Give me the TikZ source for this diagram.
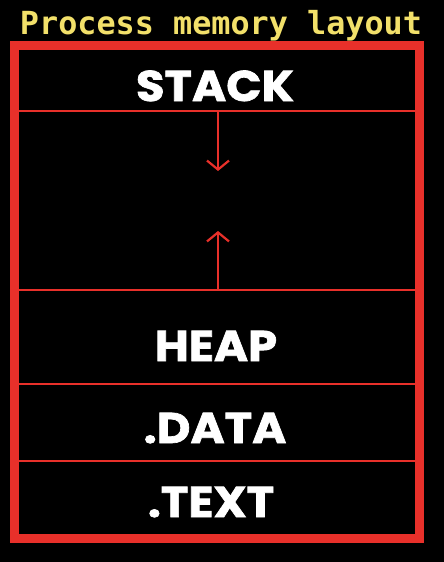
\documentclass[tikz,border=0pt]{standalone}
\usepackage{fontspec}
\usetikzlibrary{arrows.meta}
\newfontfamily\titlefont{DejaVu Sans Mono}
\newfontfamily\segfont[FakeBold=1.6,FakeStretch=1.08]{Poppins}
\definecolor{framered}{HTML}{E8302A}
\definecolor{titleyellow}{HTML}{F2E06A}
\begin{document}
\begin{tikzpicture}[x=1pt,y=-1pt,
  divider/.style={draw=framered,line width=2pt},
  growth/.style={draw=framered,line width=2.2pt,-{Straight Barb[length=9pt,width=22pt,line width=2.2pt]}},
  seglabel/.style={text=white,font=\segfont\bfseries\fontsize{43}{43}\selectfont,inner sep=0pt,anchor=base},
  title/.style={text=titleyellow,font=\titlefont\bfseries\fontsize{31.8}{32}\selectfont,inner sep=0pt,anchor=base}]
  % canvas
  \fill[black] (0,0) rectangle (444,562);
  \useasboundingbox (0,0) rectangle (444,562);
  % heading
  \node[title] (heading) at (221,34) {Process memory layout};
  % outer frame
  \draw[framered,line width=9pt] (14.5,45.5) rectangle (419.5,538);
  % section boundaries
  \coordinate (d1l) at (19,111);  \coordinate (d1r) at (415,111);
  \coordinate (d2l) at (19,290);  \coordinate (d2r) at (415,290);
  \coordinate (d3l) at (19,384);  \coordinate (d3r) at (415,384);
  \coordinate (d4l) at (19,461);  \coordinate (d4r) at (415,461);
  \draw[divider] (d1l) -- (d1r);
  \draw[divider] (d2l) -- (d2r);
  \draw[divider] (d3l) -- (d3r);
  \draw[divider] (d4l) -- (d4r);
  % growth directions
  \coordinate (stacktop) at (218,111);
  \coordinate (stacktip) at (218,171);
  \coordinate (heaptop) at (218,290);
  \coordinate (heaptip) at (218,231);
  \draw[growth] (stacktop) -- (stacktip);
  \draw[growth] (heaptop) -- (heaptip);
  % segment names
  \node[seglabel] (stack) at (215,101) {STACK};
  \node[seglabel] (heap) at (216,361) {HEAP};
  \node[seglabel] (data) at (215,443) {.DATA};
  \node[seglabel] (text) at (211,517) {.TEXT};
\end{tikzpicture}
\end{document}
